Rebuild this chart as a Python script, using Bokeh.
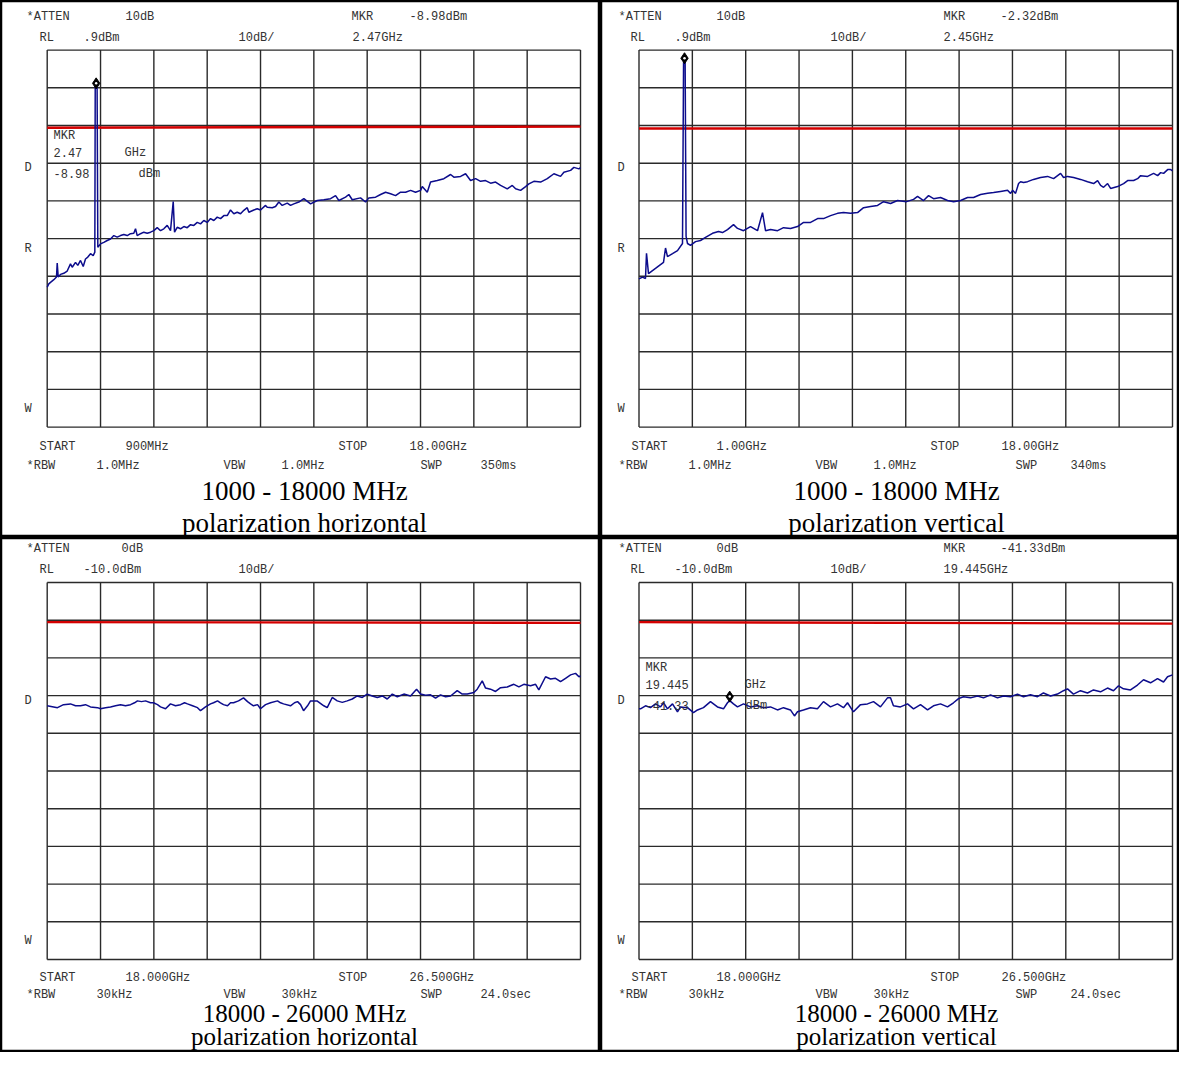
from bokeh.plotting import figure
from bokeh.models import Range1d, Label
from bokeh.layouts import gridplot
from bokeh.embed import file_html
from bokeh.resources import INLINE

# ---------------- data ----------------
# Panel 1: 900 MHz - 18 GHz, horizontal polarization
H1_FREQ_MHZ = [900, 951, 1006, 1112, 1198, 1221, 1253, 1327, 1432, 1541,
               1647, 1702, 1808, 1881, 1968, 2055, 2128, 2202, 2289, 2375,
               2427, 2440, 2500, 2523, 2609, 2715, 2824, 2930, 3036, 3145,
               3251, 3357, 3466, 3571, 3677, 3732, 3786, 3892, 3998, 4107,
               4213, 4319, 4428, 4534, 4639, 4748, 4854, 4941, 4983, 5069,
               5175, 5281, 5390, 5496, 5601, 5711, 5816, 5922, 6031, 6137,
               6243, 6352, 6458, 6564, 6673, 6778, 6884, 6993, 7099, 7205,
               7314, 7365, 7526, 7635, 7740, 7901, 7955, 8116, 8222, 8327,
               8436, 8597, 8703, 8808, 8969, 9129, 9344, 9559, 9771, 9986,
               10146, 10252, 10466, 10572, 10681, 10947, 11108, 11214, 11429, 11589,
               11749, 11910, 12070, 12230, 12391, 12551, 12711, 12872, 12926, 13087,
               13192, 13407, 13619, 13834, 13940, 14155, 14315, 14475, 14636, 14796,
               14956, 15117, 15277, 15437, 15652, 15813, 15919, 16079, 16239, 16345,
               16505, 16720, 16935, 17147, 17361, 17467, 17682, 17788, 17949, 18000]
H1_LEVEL_DBM = [-62.0, -61.1, -60.7, -60.0, -59.3, -55.6, -59.3, -58.6, -58.3, -57.7,
                -55.8, -56.7, -55.4, -56.2, -54.9, -56.5, -54.5, -54.0, -53.1, -53.6,
                -52.7, -8.98, -8.98, -51.4, -50.5, -50.1, -49.6, -49.2, -48.3, -48.7,
                -48.3, -48.0, -48.3, -47.8, -47.7, -46.5, -48.3, -47.8, -47.4, -47.7,
                -47.4, -47.0, -46.2, -47.0, -46.5, -45.6, -47.0, -39.3, -47.4, -46.1,
                -46.5, -45.9, -46.2, -45.4, -45.6, -44.8, -45.2, -44.3, -44.8, -43.8,
                -44.3, -43.4, -43.8, -43.0, -43.0, -41.5, -42.5, -42.1, -42.5, -41.6,
                -40.9, -42.1, -41.5, -41.2, -41.5, -40.3, -40.8, -40.9, -40.6, -39.4,
                -40.3, -39.7, -40.3, -39.9, -39.4, -38.5, -39.9, -39.0, -38.8, -38.5,
                -37.7, -39.0, -38.1, -37.4, -38.8, -38.3, -39.4, -38.3, -38.1, -37.4,
                -36.8, -37.2, -37.7, -36.8, -36.8, -36.3, -36.8, -36.3, -35.3, -36.8,
                -34.1, -33.7, -33.2, -32.1, -32.8, -32.6, -31.9, -33.7, -33.2, -33.9,
                -33.7, -34.4, -34.1, -35.0, -35.9, -35.0, -35.9, -36.3, -35.3, -34.6,
                -33.9, -34.1, -33.2, -31.9, -32.6, -31.5, -31.0, -30.2, -30.6, -30.3]

# Panel 2: 1 GHz - 18 GHz, vertical polarization
V1_FREQ_MHZ = [1000, 1112, 1207, 1239, 1303, 1430, 1526, 1653, 1781, 1845,
               1908, 2068, 2227, 2386, 2420, 2470, 2500, 2546, 2641, 2801,
               2960, 3119, 3342, 3533, 3661, 3820, 4012, 4139, 4330, 4553,
               4777, 4936, 5032, 5192, 5415, 5606, 5829, 6052, 6244, 6467,
               6690, 6880, 7104, 7326, 7517, 7741, 7964, 8156, 8379, 8602,
               8793, 9016, 9239, 9526, 9749, 9876, 10067, 10227, 10386, 10609,
               10832, 11024, 11247, 11470, 11661, 11884, 12107, 12298, 12521, 12744,
               12840, 12904, 12999, 13095, 13159, 13254, 13382, 13573, 13796, 14019,
               14211, 14338, 14434, 14529, 14657, 14848, 15071, 15294, 15486, 15613,
               15709, 15804, 15932, 16028, 16251, 16442, 16570, 16761, 16888, 16984,
               17207, 17398, 17526, 17622, 17717, 17845, 17940, 18000]
V1_LEVEL_DBM = [-59.8, -59.3, -59.7, -53.0, -58.4, -57.6, -57.0, -56.2, -55.4, -51.6,
                -53.9, -53.1, -52.3, -50.4, -2.32, -2.32, -48.5, -50.4, -50.9, -49.9,
                -49.6, -48.8, -47.7, -47.2, -47.5, -46.7, -45.4, -46.4, -47.0, -45.9,
                -47.0, -42.2, -47.0, -46.7, -47.0, -46.2, -46.4, -45.9, -44.8, -44.8,
                -43.8, -43.8, -43.0, -42.4, -42.2, -42.4, -42.2, -40.9, -40.6, -40.3,
                -39.3, -39.8, -39.0, -39.3, -38.7, -37.9, -39.0, -37.7, -38.5, -38.2,
                -39.0, -39.3, -39.0, -38.2, -38.2, -37.4, -37.1, -36.9, -36.6, -36.3,
                -37.1, -36.3, -37.1, -34.5, -34.0, -34.2, -34.0, -33.4, -32.9, -32.6,
                -33.2, -32.4, -31.8, -32.9, -32.6, -32.9, -33.4, -34.0, -34.5, -33.7,
                -35.0, -35.5, -34.5, -35.8, -35.3, -34.5, -33.7, -33.7, -33.2, -32.4,
                -32.6, -31.8, -32.4, -31.6, -31.8, -30.8, -30.8, -31.1]

# Panel 3: 18 GHz - 26.5 GHz, horizontal polarization
H2_FREQ_MHZ = [18000, 18164, 18260, 18371, 18451, 18531, 18610, 18690, 18802, 18850,
               18929, 19009, 19089, 19169, 19248, 19328, 19392, 19439, 19503, 19567,
               19647, 19694, 19758, 19806, 19886, 19965, 20045, 20125, 20189, 20236,
               20316, 20396, 20444, 20523, 20603, 20651, 20715, 20762, 20810, 20874,
               20922, 20970, 21049, 21129, 21193, 21241, 21288, 21352, 21400, 21480,
               21560, 21671, 21719, 21767, 21878, 21942, 21990, 22038, 22086, 22149,
               22197, 22300, 22409, 22463, 22543, 22623, 22703, 22782, 22862, 22942,
               23022, 23101, 23181, 23261, 23341, 23420, 23500, 23580, 23684, 23791,
               23887, 23951, 24030, 24110, 24190, 24269, 24349, 24429, 24535, 24615,
               24695, 24801, 24854, 24934, 24987, 25066, 25146, 25226, 25332, 25438,
               25518, 25597, 25704, 25784, 25836, 25943, 26023, 26102, 26182, 26262,
               26342, 26421, 26475, 26500]
H2_LEVEL_DBM = [-42.7, -43.2, -42.4, -42.2, -42.7, -42.7, -42.4, -43.0, -43.2, -43.5,
                -43.2, -43.0, -42.7, -42.4, -42.7, -42.4, -41.9, -41.4, -41.6, -41.4,
                -41.9, -41.9, -42.4, -43.0, -43.5, -42.2, -42.7, -42.4, -41.9, -42.2,
                -42.7, -43.2, -44.0, -43.0, -42.2, -41.9, -41.4, -41.9, -42.4, -42.7,
                -41.9, -41.9, -41.4, -40.6, -41.6, -42.2, -42.7, -42.4, -43.5, -42.4,
                -41.9, -41.4, -41.9, -42.2, -42.7, -41.9, -41.6, -42.4, -44.0, -42.7,
                -41.4, -41.4, -42.7, -43.2, -40.5, -41.4, -41.8, -41.4, -40.9, -40.1,
                -40.5, -39.6, -40.1, -40.5, -40.1, -40.9, -39.6, -40.3, -39.6, -40.1,
                -38.3, -39.6, -39.9, -39.8, -40.7, -39.8, -40.3, -40.1, -38.7, -39.6,
                -39.6, -39.2, -38.3, -36.1, -38.0, -38.3, -38.9, -37.9, -37.7, -37.0,
                -37.7, -37.0, -37.4, -37.0, -38.5, -35.0, -35.6, -35.4, -36.3, -35.4,
                -34.5, -34.1, -35.0, -34.8]

# Panel 4: 18 GHz - 26.5 GHz, vertical polarization
V2_FREQ_MHZ = [18000, 18024, 18104, 18183, 18263, 18343, 18390, 18454, 18534, 18613,
               18661, 18773, 18868, 18932, 19027, 19139, 19250, 19346, 19410, 19445,
               19505, 19569, 19665, 19776, 19888, 19983, 20095, 20206, 20302, 20413,
               20477, 20525, 20620, 20732, 20843, 20939, 21051, 21162, 21258, 21322,
               21417, 21529, 21640, 21736, 21847, 21959, 22007, 22054, 22166, 22278,
               22374, 22485, 22597, 22692, 22804, 22915, 23011, 23091, 23170, 23282,
               23394, 23489, 23601, 23712, 23807, 23919, 24030, 24125, 24237, 24349,
               24444, 24556, 24667, 24763, 24827, 24922, 25034, 25146, 25241, 25353,
               25464, 25560, 25640, 25719, 25831, 25942, 26038, 26150, 26261, 26357,
               26421, 26500]
V2_LEVEL_DBM = [-43.5, -43.5, -42.7, -43.2, -42.2, -43.0, -41.9, -43.5, -42.2, -44.3,
                -43.0, -43.2, -44.5, -43.8, -43.2, -41.6, -43.0, -43.5, -41.9, -41.33,
                -42.2, -43.0, -42.2, -43.0, -42.7, -43.2, -43.0, -43.8, -43.2, -43.8,
                -45.4, -44.3, -43.8, -43.2, -43.5, -41.6, -43.0, -42.2, -43.2, -41.9,
                -44.3, -42.4, -42.2, -41.6, -43.0, -40.6, -40.6, -42.7, -43.0, -42.2,
                -43.5, -42.4, -43.8, -42.7, -42.2, -43.0, -41.9, -40.8, -40.3, -40.6,
                -40.1, -40.6, -39.8, -40.6, -40.1, -40.3, -39.6, -40.3, -39.8, -40.3,
                -39.3, -40.1, -39.6, -38.7, -38.2, -39.6, -38.7, -39.3, -38.5, -39.0,
                -38.0, -38.7, -37.4, -38.2, -38.5, -37.2, -35.8, -36.6, -35.5, -36.4,
                -35.0, -34.5]

# sweep settings: start, stop (MHz), reference level (dBm)
SPAN_1 = [900, 18000]
SPAN_2 = [1000, 18000]
SPAN_3 = [18000, 26500]
RL_TOP = 0.9
RL_BOTTOM = -10.0

# limit line (dBm at start / stop of sweep)
LIMIT_1 = [-19.7, -19.4]
LIMIT_2 = [-19.9, -19.9]
LIMIT_3 = [-20.5, -20.7]
LIMIT_4 = [-20.5, -20.9]

# markers (MHz, dBm)
MARKER_1 = [2470, -8.98]
MARKER_2 = [2450, -2.32]
MARKER_4 = [19445, -41.33]

# ---------------- layout / style ----------------
MONO = "Liberation Mono"
SERIF = "Liberation Serif"
GRID_COLOR = "#2a2a2a"
TRACE_COLOR = "#0c0c8c"
LIMIT_COLOR = "#d40000"
SMALL = "12px"

T1 = [(26, 16, "*ATTEN"), (125, 16, "10dB"), (351, 16, "MKR"), (409, 16, "-8.98dBm"),
      (39, 37, "RL"), (83, 37, ".9dBm"), (238, 37, "10dB/"), (352, 37, "2.47GHz"),
      (53, 135, "MKR"), (53, 152, "2.47"), (124, 152, "GHz"), (53, 173, "-8.98"), (138, 173, "dBm"),
      (24, 167, "D"), (24, 248, "R"), (24, 408, "W"),
      (39, 446, "START"), (125, 446, "900MHz"), (338, 446, "STOP"), (409, 446, "18.00GHz"),
      (26, 465, "*RBW"), (96, 465, "1.0MHz"), (223, 465, "VBW"), (281, 465, "1.0MHz"),
      (420, 465, "SWP"), (480, 465, "350ms")]
T2 = [(618, 16, "*ATTEN"), (716, 16, "10dB"), (943, 16, "MKR"), (1000, 16, "-2.32dBm"),
      (630, 37, "RL"), (674, 37, ".9dBm"), (830, 37, "10dB/"), (943, 37, "2.45GHz"),
      (617, 167, "D"), (617, 248, "R"), (617, 408, "W"),
      (631, 446, "START"), (716, 446, "1.00GHz"), (930, 446, "STOP"), (1001, 446, "18.00GHz"),
      (618, 465, "*RBW"), (688, 465, "1.0MHz"), (815, 465, "VBW"), (873, 465, "1.0MHz"),
      (1015, 465, "SWP"), (1070, 465, "340ms")]
T3 = [(26, 548, "*ATTEN"), (121, 548, "0dB"),
      (39, 569, "RL"), (83, 569, "-10.0dBm"), (238, 569, "10dB/"),
      (24, 700, "D"), (24, 940, "W"),
      (39, 977, "START"), (125, 977, "18.000GHz"), (338, 977, "STOP"), (409, 977, "26.500GHz"),
      (26, 994, "*RBW"), (96, 994, "30kHz"), (223, 994, "VBW"), (281, 994, "30kHz"),
      (420, 994, "SWP"), (480, 994, "24.0sec")]
T4 = [(618, 548, "*ATTEN"), (716, 548, "0dB"), (943, 548, "MKR"), (1000, 548, "-41.33dBm"),
      (630, 569, "RL"), (674, 569, "-10.0dBm"), (830, 569, "10dB/"), (943, 569, "19.445GHz"),
      (645, 667, "MKR"), (645, 684, "19.445"), (744, 684, "GHz"), (645, 705, "-41.33"), (745, 705, "dBm"),
      (617, 700, "D"), (617, 940, "W"),
      (631, 977, "START"), (716, 977, "18.000GHz"), (930, 977, "STOP"), (1001, 977, "26.500GHz"),
      (618, 994, "*RBW"), (688, 994, "30kHz"), (815, 994, "VBW"), (873, 994, "30kHz"),
      (1015, 994, "SWP"), (1070, 994, "24.0sec")]
C1 = [(304, 490, "1000 - 18000 MHz", "27px"), (304, 522, "polarization horizontal", "27px")]
C2 = [(896, 490, "1000 - 18000 MHz", "27px"), (896, 522, "polarization vertical", "27px")]
C3 = [(304, 1013, "18000 - 26000 MHz", "25px"), (304, 1036, "polarization horizontal", "25px")]
C4 = [(896, 1013, "18000 - 26000 MHz", "25px"), (896, 1036, "polarization vertical", "25px")]


def make_panel(box, grat, span, rl, freq, level, limit, marker, texts, captions):
    ox, oy, w, h = box
    gl, gr, gt, gb = grat
    f_start, f_stop = span
    p = figure(width=w, height=h, output_backend="svg", toolbar_location=None, tools="",
               x_range=Range1d(ox, ox + w), y_range=Range1d(oy + h, oy),
               x_axis_location=None, y_axis_location=None, min_border=0,
               background_fill_color="white", border_fill_color="white",
               outline_line_color="black", outline_line_width=3.5)
    p.grid.grid_line_color = None
    mhz_per_px = (f_stop - f_start) / (gr - gl)
    db_per_px = 100.0 / (gb - gt)
    p.extra_x_ranges = {"f": Range1d(f_start - (gl - ox) * mhz_per_px,
                                     f_stop + (ox + w - gr) * mhz_per_px)}
    p.extra_y_ranges = {"db": Range1d(rl - 100 - (oy + h - gb) * db_per_px,
                                      rl + (gt - oy) * db_per_px)}
    kw = dict(x_range_name="f", y_range_name="db")
    xs = [f_start + k * (f_stop - f_start) / 10 for k in range(11)]
    ys = [rl - 10 * k for k in range(11)]
    p.segment(x0=xs, y0=[rl - 100] * 11, x1=xs, y1=[rl] * 11,
              line_color=GRID_COLOR, line_width=1.4, **kw)
    p.segment(x0=[f_start] * 11, y0=ys, x1=[f_stop] * 11, y1=ys,
              line_color=GRID_COLOR, line_width=1.4, **kw)
    p.line([f_start, f_stop], limit, line_color=LIMIT_COLOR, line_width=2.4, **kw)
    p.line(freq, level, line_color=TRACE_COLOR, line_width=1.5, **kw)
    if marker:
        mf, ml = marker
        my = ml + 4 * db_per_px
        p.scatter([mf], [my], marker="diamond", size=11, fill_color="black",
                  line_color="black", **kw)
        p.scatter([mf], [my], marker="circle", size=2.5, fill_color="white",
                  line_color=None, **kw)
    for x, y, t in texts:
        p.add_layout(Label(x=x, y=y, text=t, text_font=MONO, text_font_size=SMALL,
                           text_color="#333333", text_baseline="middle", text_align="left"))
    for x, y, t, fs in captions:
        p.add_layout(Label(x=x, y=y, text=t, text_font=SERIF, text_font_size=fs,
                           text_color="black", text_baseline="middle", text_align="center"))
    return p


p1 = make_panel((0, 0, 600, 537), (46.7, 580, 49.6, 426.6), SPAN_1, RL_TOP,
                H1_FREQ_MHZ, H1_LEVEL_DBM, LIMIT_1, MARKER_1, T1, C1)
p2 = make_panel((600, 0, 579, 537), (638.5, 1172, 49.6, 426.6), SPAN_2, RL_TOP,
                V1_FREQ_MHZ, V1_LEVEL_DBM, LIMIT_2, MARKER_2, T2, C2)
p3 = make_panel((0, 537, 600, 515), (46.7, 580, 582, 959), SPAN_3, RL_BOTTOM,
                H2_FREQ_MHZ, H2_LEVEL_DBM, LIMIT_3, None, T3, C3)
p4 = make_panel((600, 537, 579, 515), (638.5, 1172, 582, 959), SPAN_3, RL_BOTTOM,
                V2_FREQ_MHZ, V2_LEVEL_DBM, LIMIT_4, MARKER_4, T4, C4)

layout = gridplot([[p1, p2], [p3, p4]], toolbar_location=None)

with open("out.html", "w") as fh:
    fh.write(file_html(layout, INLINE))
